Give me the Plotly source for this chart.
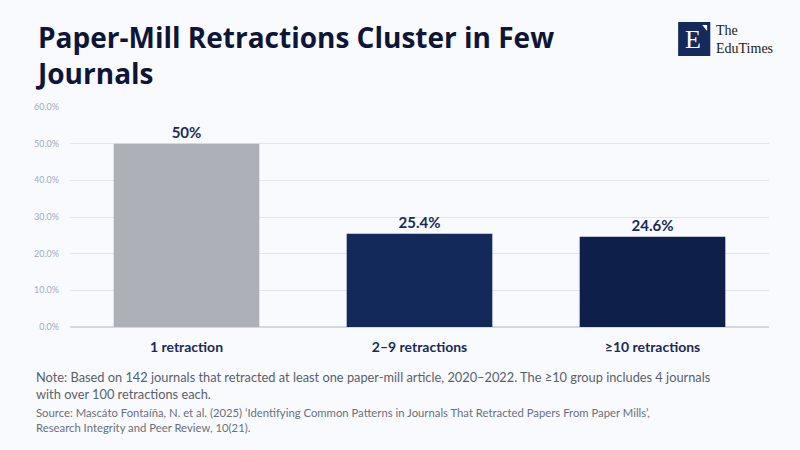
import plotly.graph_objects as go

# data
categories = ["1 retraction", "2–9 retractions", "≥10 retractions"]
shares = [50.0, 25.4, 24.6]
bar_colors = ["#AEB0B8", "#12295A", "#0E1F4A"]
y_ticks = [0, 10, 20, 30, 40, 50, 60]

title_text = "Paper-Mill Retractions Cluster in Few<br>Journals"
note_text = ("Note: Based on 142 journals that retracted at least one paper-mill article, 2020–2022. "
             "The ≥10 group includes 4 journals<br>with over 100 retractions each.")
source_text = ("Source: Mascáto Fontaíña, N. et al. (2025) ‘Identifying Common Patterns in Journals "
               "That Retracted Papers From Paper Mills’,<br>Research Integrity and Peer Review, 10(21).")

FONT = "Lato"
BG = "#F8FAFE"

fig = go.Figure()
fig.add_trace(go.Bar(
    x=categories,
    y=shares,
    text=[f"{v:g}%" for v in shares],
    texttemplate="%{text}",
    marker=dict(color=bar_colors, line=dict(width=0)),
    textposition="outside",
    textfont=dict(family=FONT, size=15, color="#1B2A55", weight="bold"),
    cliponaxis=False,
    hoverinfo="skip",
))

fig.update_layout(
    width=800, height=450,
    paper_bgcolor=BG, plot_bgcolor=BG,
    margin=dict(l=70, r=31, t=107, b=123),
    bargap=0.375,
    showlegend=False,
    font=dict(family=FONT),
)

fig.update_yaxes(
    range=[0, 60],
    tickvals=y_ticks,
    ticktext=[f"{v:.1f}%" for v in y_ticks],
    tickfont=dict(family=FONT, size=9, color="#A3ABBE"),
    gridcolor="#E2E5EC", gridwidth=1,
    zeroline=True, zerolinecolor="#D5D8DF", zerolinewidth=1.5,
    showline=False, ticks="", ticklabelstandoff=10,
)
fig.update_xaxes(
    tickfont=dict(family=FONT, size=14, color="#1B2A55", weight="bold"),
    showline=False, ticks="", ticklabelstandoff=10,
)

# title
fig.add_annotation(
    text=f"<b>{title_text}</b>", xref="paper", yref="paper",
    x=-0.053, y=1.415, xanchor="left", yanchor="top", align="left", showarrow=False,
    font=dict(family="Open Sans", size=28, color="#0E1536"),
)

# note and source
fig.add_annotation(
    text=note_text, xref="paper", yref="paper",
    x=-0.052, y=-0.18, xanchor="left", yanchor="top", align="left", showarrow=False,
    font=dict(family=FONT, size=12.8, color="#5A606B"),
)
fig.add_annotation(
    text=source_text, xref="paper", yref="paper",
    x=-0.052, y=-0.35, xanchor="left", yanchor="top", align="left", showarrow=False,
    font=dict(family=FONT, size=11.3, color="#6A707B"),
)

# logo: navy square with a serif E, plus the wordmark
fig.add_shape(type="rect", xref="paper", yref="paper",
              x0=0.870, x1=0.916, y0=1.232, y1=1.386,
              fillcolor="#14295C", line=dict(width=0), layer="above")
fig.add_shape(type="path", xref="paper", yref="paper",
              path="M 0.9045 1.373 L 0.9115 1.373 L 0.9115 1.345 Z",
              fillcolor="white", line=dict(width=0), layer="above")
fig.add_annotation(text="E", xref="paper", yref="paper",
                   x=0.8915, y=1.305, xanchor="center", yanchor="middle", showarrow=False,
                   font=dict(family="Liberation Serif", size=26, color="white"))
fig.add_annotation(text="The<br>EduTimes", xref="paper", yref="paper",
                   x=0.921, y=1.307, xanchor="left", yanchor="middle", align="left", showarrow=False,
                   font=dict(family="Liberation Serif", size=14, color="#1A1A1A"))

fig.write_html("out.html", config={"displayModeBar": False},
               post_script="document.body.style.margin='0';")
